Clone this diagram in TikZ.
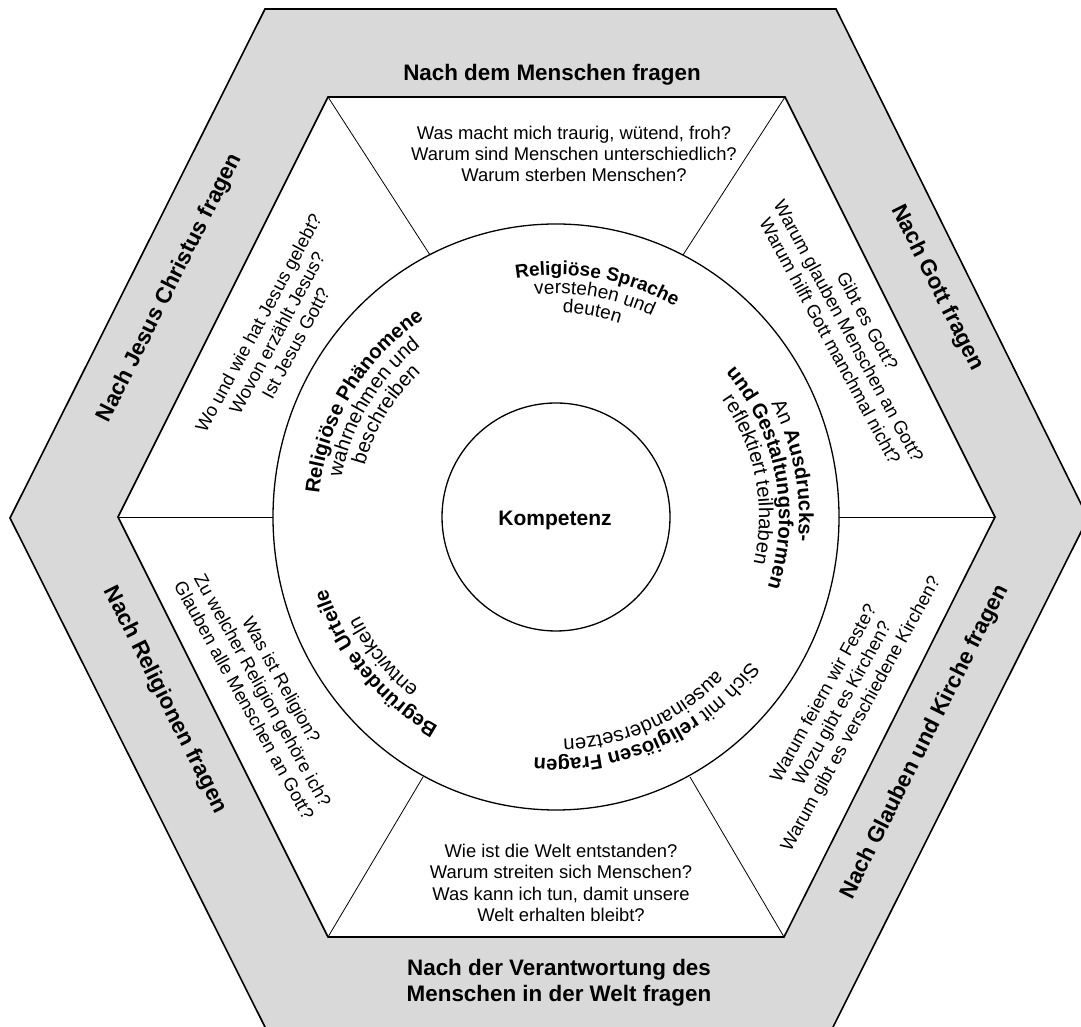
\documentclass[tikz,border=0pt]{standalone}
\usepackage{fontspec}
\setmainfont{Liberation Sans}
\usetikzlibrary{decorations.text,calc}
\definecolor{bandgray}{RGB}{217,217,217}
\newcommand\lblB{\fontsize{19}{19}\selectfont\bfseries}
\newcommand\lblR{\fontsize{19}{19}\selectfont\mdseries}
\newcommand\lblBB{\fontsize{20.3}{20}\selectfont\bfseries}
\newcommand\lblRR{\fontsize{20.3}{20}\selectfont\mdseries}
\newcommand\ringline[3]{%
  \path[decorate, decoration={text along path, text align=center, text={#3}}]
    ($(556,510)+({#1+75}:#2)$) arc[start angle={#1+75}, end angle={#1-75}, radius=#2];}
\begin{document}
\begin{tikzpicture}[x=1pt,y=1pt,
  band/.style={font=\fontsize{22.4}{26}\selectfont\bfseries, align=center, inner sep=0pt},
  panel/.style={font=\fontsize{18.4}{21.2}\selectfont, align=center, inner sep=0pt},
  hexline/.style={line width=1.6pt},
  spoke/.style={line width=0.8pt},
  ring/.style={line width=1.3pt}]
\useasboundingbox (0,0) rectangle (1081,1027);
\clip (0,0) rectangle (1081,1027);
\fill[white] (0,0) rectangle (1081,1027);
% outer band
\filldraw[fill=bandgray, hexline] (10,509) -- (265,1018) -- (836,1018) -- (1088,509) -- (828,-10) -- (270,-10) -- cycle;
% inner hexagon
\filldraw[fill=white, hexline] (118,510) -- (328,930) -- (785,930) -- (995,510) -- (784,90) -- (328,90) -- cycle;
% spokes
\draw[spoke] (328,930) -- (430,772);
\draw[spoke] (785,930) -- (683,772);
\draw[spoke] (118,510) -- (273,510);
\draw[spoke] (995,510) -- (838,510);
\draw[spoke] (328,90) -- (423,250);
\draw[spoke] (784,90) -- (690,250);
% rings
\draw[ring, fill=white] (556,510) ellipse [x radius=283, y radius=293];
\draw[ring] (556,510) circle [radius=114];
% band titles
\node[band] (tMensch) at (552,952) {Nach dem Menschen fragen};
\node[band] (tWelt) at (559,44) {Nach der Verantwortung des\\Menschen in der Welt fragen};
\node[band, rotate=63.4] (tJesus) at (170,739) {Nach Jesus Christus fragen};
\node[band, rotate=-63.4] (tGott) at (937,739) {Nach Gott fragen};
\node[band, rotate=-63.4] (tRel) at (165,327) {Nach Religionen fragen};
\node[band, rotate=63.4] (tKirche) at (925,285) {Nach Glauben und Kirche fragen};
% panel questions
\node[panel] (qMensch) at (574,873) {Was macht mich traurig, wütend, froh?\\Warum sind Menschen unterschiedlich?\\Warum sterben Menschen?};
\node[panel] (qWelt) at (561,144) {Wie ist die Welt entstanden?\\Warum streiten sich Menschen?\\Was kann ich tun, damit unsere\\Welt erhalten bleibt?};
\node[panel, rotate=61.6] (qJesus) at (277,694) {Wo und wie hat Jesus gelebt?\\Wovon erzählt Jesus?\\Ist Jesus Gott?};
\node[panel, rotate=-61.6] (qGott) at (849,696) {Gibt es Gott?\\Warum glauben Menschen an Gott?\\Warum hilft Gott manchmal nicht?};
\node[panel, rotate=-61] (qRel) at (263,337) {Was ist Religion?\\Zu welcher Religion gehöre ich?\\Glauben alle Menschen an Gott?};
\node[panel, rotate=61] (qKirche) at (843,323) {Warum feiern wir Feste?\\Wozu gibt es Kirchen?\\Warum gibt es verschiedene Kirchen?};
% centre
\node[font=\fontsize{21}{21}\selectfont\bfseries] (komp) at (555,507) {Kompetenz};
% ring labels
\ringline{80}{242}{|\lblB|Religiöse Sprache}
\ringline{80}{223}{|\lblR|verstehen und}
\ringline{80}{204}{|\lblR|deuten}
\ringline{11}{243}{|\lblRR|An |\lblBB|Ausdrucks-}
\ringline{11}{223}{|\lblBB|und Gestaltungsformen}
\ringline{11}{203}{|\lblRR|reflektiert teilhaben}
\ringline{-66}{242}{|\lblRR|Sich mit |\lblBB|religiösen Fragen}
\ringline{-66}{222}{|\lblRR|auseinandersetzen}
\ringline{219}{240}{|\lblBB|Begründete Urteile}
\ringline{219}{220}{|\lblRR|entwickeln}
\ringline{149}{238}{|\lblBB|Religiöse Phänomene}
\ringline{149}{218}{|\lblRR|wahrnehmen und}
\ringline{149}{198}{|\lblRR|beschreiben}
\end{tikzpicture}
\end{document}
